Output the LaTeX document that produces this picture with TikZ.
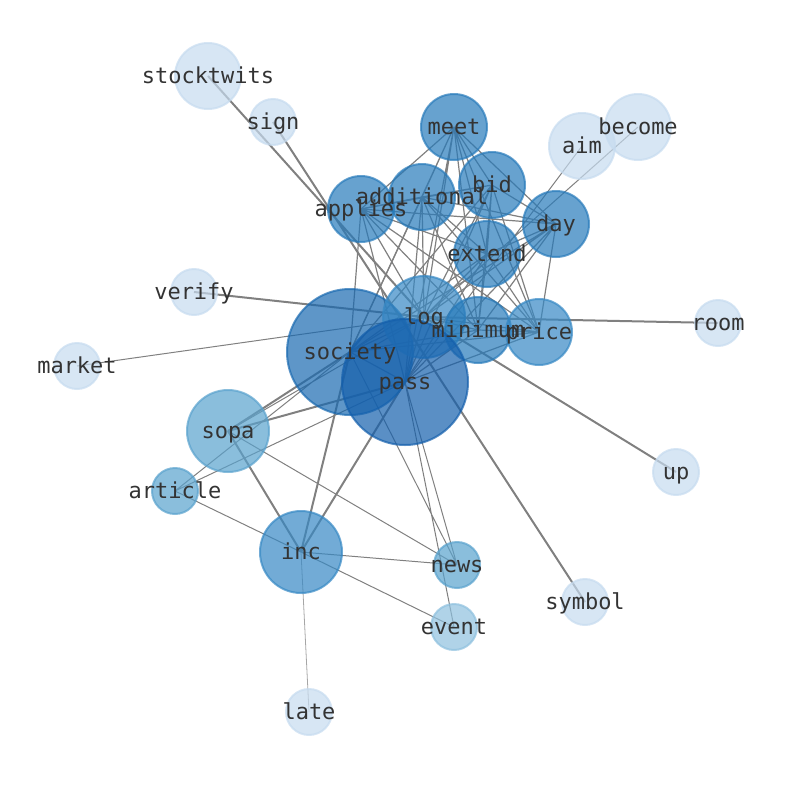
\documentclass[tikz,border=0pt]{standalone}
\usepackage{fontspec}
\setmonofont{DejaVu Sans Mono}
\usetikzlibrary{backgrounds}
\definecolor{blueA}{RGB}{198,219,239}
\definecolor{blueB}{RGB}{142,192,222}
\definecolor{blueC}{RGB}{89,162,205}
\definecolor{blueD}{RGB}{54,136,196}
\definecolor{blueE}{RGB}{39,122,186}
\definecolor{blueF}{RGB}{25,105,176}
\definecolor{blueG}{RGB}{20,95,172}
\definecolor{edgegray}{RGB}{128,128,128}
\definecolor{labelgray}{RGB}{51,51,51}
\begin{document}
\begin{tikzpicture}[x=1pt,y=-1pt,
  vert/.style={circle,inner sep=0pt,line width=2pt,fill opacity=0.7,draw opacity=0.7},
  small/.style={vert,minimum size=46pt},
  mid/.style={vert,minimum size=66pt},
  big/.style={vert,minimum size=82pt},
  huge/.style={vert,minimum size=126pt},
  word/.style={text=labelgray,text height=18pt,text depth=3pt,inner sep=0pt,
    font=\ttfamily\fontsize{22}{22}\selectfont},
  heavy/.style={edgegray,line width=2pt},
  core/.style={edgegray,line width=1.2pt},
  light/.style={edgegray,line width=1pt},
  faint/.style={edgegray!70,line width=0.8pt}]
\useasboundingbox (0,0) rectangle (794,790);

\node[mid,fill=blueA,draw=blueA](stocktwits) at (208,76) {};
\node[small,fill=blueA,draw=blueA](sign) at (273,122) {};
\node[mid,fill=blueA,draw=blueA](aim) at (582,146) {};
\node[mid,fill=blueA,draw=blueA](become) at (638,127) {};
\node[small,fill=blueA,draw=blueA](verify) at (194,292) {};
\node[small,fill=blueA,draw=blueA](market) at (77,366) {};
\node[small,fill=blueA,draw=blueA](room) at (718,323) {};
\node[small,fill=blueA,draw=blueA](up) at (676,472) {};
\node[small,fill=blueA,draw=blueA](symbol) at (585,602) {};
\node[small,fill=blueA,draw=blueA](late) at (309,712) {};
\node[small,fill=blueB,draw=blueB](event) at (454,627) {};
\node[small,fill=blueC,draw=blueC](news) at (457,565) {};
\node[small,fill=blueC,draw=blueC](article) at (175,491) {};
\node[big,fill=blueC,draw=blueC](sopa) at (228,431) {};
\node[big,fill=blueD,draw=blueD](inc) at (301,552) {};
\node[mid,fill=blueE,draw=blueE](meet) at (454,127) {};
\node[mid,fill=blueE,draw=blueE](applies) at (361,209) {};
\node[mid,fill=blueE,draw=blueE](additional) at (422,197) {};
\node[mid,fill=blueE,draw=blueE](bid) at (492,185) {};
\node[mid,fill=blueE,draw=blueE](day) at (556,224) {};
\node[mid,fill=blueE,draw=blueE](extend) at (487,254) {};
\node[huge,fill=blueF,draw=blueF](society) at (350,352) {};
\node[big,fill=blueD,draw=blueD](log) at (424,317) {};
\node[mid,fill=blueE,draw=blueE](minimum) at (478,330) {};
\node[mid,fill=blueD,draw=blueD](price) at (539,332) {};
\node[huge,fill=blueG,draw=blueG](pass) at (405,382) {};

\foreach \w in {stocktwits,sign,aim,become,verify,market,room,up,symbol,late,event,news,
  article,sopa,inc,meet,applies,additional,bid,day,extend,society,log,minimum,price,pass}
  \node[word](t-\w) at (\w) {\w};

\begin{scope}[on background layer]
\draw[heavy] (stocktwits.center) -- (log.center) (sign.center) -- (symbol.center)
  (verify.center) -- (log.center) (room.center) -- (log.center) (up.center) -- (log.center);
\draw[heavy] (sopa.center) -- (society.center) (sopa.center) -- (pass.center)
  (inc.center) -- (society.center) (inc.center) -- (pass.center) (inc.center) -- (sopa.center);
\draw[light] (market.center) -- (log.center) (aim.center) -- (pass.center) (become.center) -- (log.center);
\draw[light] (article.center) -- (society.center) (article.center) -- (pass.center)
  (article.center) -- (inc.center) (inc.center) -- (event.center) (sopa.center) -- (log.center)
  (sopa.center) -- (news.center) (inc.center) -- (news.center) (news.center) -- (pass.center)
  (news.center) -- (society.center) (event.center) -- (pass.center);
\draw[faint] (inc.center) -- (late.center);

\draw[core] (meet.center) -- (bid.center) (meet.center) -- (additional.center)
  (meet.center) -- (applies.center) (meet.center) -- (day.center) (meet.center) -- (extend.center)
  (meet.center) -- (log.center) (meet.center) -- (minimum.center) (meet.center) -- (price.center)
  (meet.center) -- (society.center) (meet.center) -- (pass.center);
\draw[core] (bid.center) -- (additional.center) (bid.center) -- (applies.center)
  (bid.center) -- (day.center) (bid.center) -- (extend.center) (bid.center) -- (log.center)
  (bid.center) -- (minimum.center) (bid.center) -- (price.center) (bid.center) -- (society.center)
  (bid.center) -- (pass.center);
\draw[core] (additional.center) -- (applies.center) (additional.center) -- (day.center)
  (additional.center) -- (extend.center) (additional.center) -- (log.center)
  (additional.center) -- (minimum.center) (additional.center) -- (price.center)
  (additional.center) -- (society.center) (additional.center) -- (pass.center);
\draw[core] (applies.center) -- (day.center) (applies.center) -- (extend.center)
  (applies.center) -- (log.center) (applies.center) -- (minimum.center)
  (applies.center) -- (price.center) (applies.center) -- (society.center)
  (applies.center) -- (pass.center);
\draw[core] (day.center) -- (extend.center) (day.center) -- (log.center)
  (day.center) -- (minimum.center) (day.center) -- (price.center)
  (day.center) -- (society.center) (day.center) -- (pass.center);
\draw[core] (extend.center) -- (log.center) (extend.center) -- (minimum.center)
  (extend.center) -- (price.center) (extend.center) -- (society.center)
  (extend.center) -- (pass.center);
\draw[core] (log.center) -- (minimum.center) (log.center) -- (price.center)
  (log.center) -- (society.center) (log.center) -- (pass.center)
  (minimum.center) -- (price.center) (minimum.center) -- (society.center)
  (minimum.center) -- (pass.center) (price.center) -- (society.center)
  (price.center) -- (pass.center) (society.center) -- (pass.center);
\end{scope}
\end{tikzpicture}
\end{document}
